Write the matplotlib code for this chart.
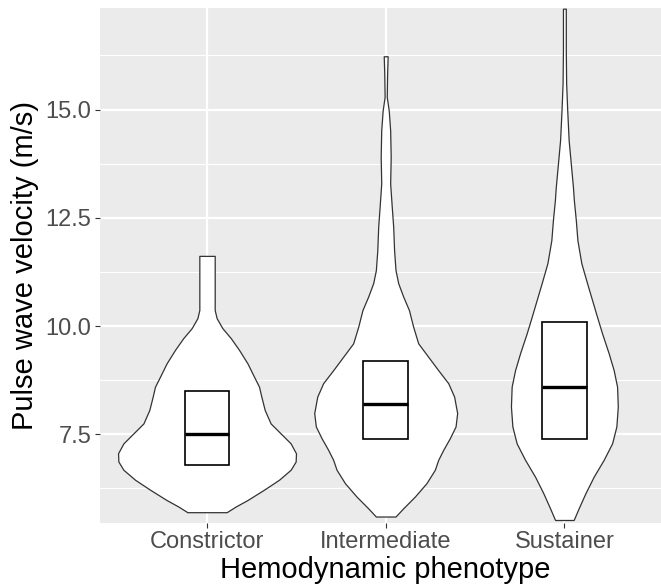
import matplotlib
matplotlib.use("Agg")
import matplotlib.pyplot as plt
from matplotlib.patches import Rectangle
import numpy as np

plt.rcParams["font.family"] = ["Liberation Sans", "DejaVu Sans"]

# phenotype groups
phenotypes = ["Constrictor", "Intermediate", "Sustainer"]

# violin outlines: PWV level (m/s) and density half-width (in category units)
constrictor_y = [5.70, 5.83, 5.98, 6.22, 6.45, 6.68, 6.87, 7.06, 7.29, 7.52,
                 7.75, 8.06, 8.37, 8.60, 8.83, 9.14, 9.45, 9.72, 9.95, 10.18,
                 10.37, 10.99, 11.62]
constrictor_w = [0.110, 0.160, 0.226, 0.319, 0.403, 0.468, 0.496, 0.498, 0.468, 0.412,
                 0.356, 0.323, 0.304, 0.291, 0.263, 0.226, 0.179, 0.133, 0.086, 0.054,
                 0.043, 0.043, 0.043]

intermediate_y = [5.60, 5.79, 6.06, 6.37, 6.68, 6.91, 7.14, 7.41, 7.68, 7.99,
                  8.37, 8.68, 8.98, 9.29, 9.60, 9.98, 10.37, 10.68, 10.99, 11.29,
                  11.75, 12.29, 12.75, 13.29, 13.91, 14.52, 14.98, 15.29, 15.83, 16.23]
intermediate_w = [0.055, 0.098, 0.163, 0.228, 0.275, 0.294, 0.322, 0.359, 0.391, 0.400,
                  0.383, 0.350, 0.294, 0.238, 0.182, 0.154, 0.130, 0.098, 0.070, 0.055,
                  0.047, 0.042, 0.034, 0.025, 0.028, 0.025, 0.017, 0.006, 0.008, 0.011]

sustainer_y = [5.52, 5.79, 6.14, 6.52, 6.91, 7.29, 7.68, 8.14, 8.60, 8.98,
               9.37, 9.83, 10.21, 10.60, 10.99, 11.45, 11.98, 12.45, 12.91, 13.21,
               13.75, 14.29, 14.98, 15.60, 16.37, 17.33]
sustainer_w = [0.052, 0.080, 0.118, 0.164, 0.220, 0.267, 0.291, 0.299, 0.295, 0.276,
               0.248, 0.211, 0.183, 0.155, 0.127, 0.095, 0.073, 0.064, 0.053, 0.048,
               0.036, 0.024, 0.016, 0.010, 0.008, 0.008]

# box summaries (25th, median, 75th percentile)
q1 = [6.8, 7.4, 7.4]
medians = [7.5, 8.2, 8.6]
q3 = [8.5, 9.2, 10.1]

violins = [(constrictor_y, constrictor_w),
           (intermediate_y, intermediate_w),
           (sustainer_y, sustainer_w)]

fig = plt.figure(figsize=(6.61, 5.87), dpi=100)
ax = fig.add_axes([0.151, 0.109, 0.865, 0.877])
ax.set_facecolor("#EBEBEB")
for side in ax.spines.values():
    side.set_visible(False)

# grid
for yv in [6.25, 8.75, 11.25, 13.75, 16.25]:
    ax.axhline(yv, color="white", lw=0.8, zorder=0)
for yv in [7.5, 10.0, 12.5, 15.0]:
    ax.axhline(yv, color="white", lw=1.6, zorder=0)
for i in range(len(phenotypes)):
    ax.axvline(i + 1, color="white", lw=1.6, zorder=0)

for i, (vy, vw) in enumerate(violins):
    pos = i + 1
    vy = np.array(vy)
    vw = np.array(vw)
    ax.fill_betweenx(vy, pos - vw, pos + vw, facecolor="white",
                     edgecolor="#333333", lw=0.9, zorder=2)
    ax.add_patch(Rectangle((pos - 0.125, q1[i]), 0.25, q3[i] - q1[i],
                           facecolor="white", edgecolor="black", lw=1.2, zorder=3))
    ax.hlines(medians[i], pos - 0.125, pos + 0.125, color="black", lw=2.4, zorder=4)

ax.set_xlim(0.4, 3.6)
ax.set_ylim(5.45, 17.34)
ax.set_xticks(range(1, len(phenotypes) + 1))
ax.set_xticklabels(phenotypes)
ax.set_yticks([7.5, 10.0, 12.5, 15.0])
ax.set_yticklabels(["7.5", "10.0", "12.5", "15.0"])
ax.tick_params(axis="both", colors="#333333", length=3.6, width=0.8,
               labelsize=17, labelcolor="#4D4D4D", pad=2.5)

ax.set_xlabel("Hemodynamic phenotype", fontsize=21, color="black", labelpad=2)
ax.set_ylabel("Pulse wave velocity (m/s)", fontsize=21, color="black", labelpad=5)
ax.xaxis.label.set_x((385.6 - 0.151 * 661) / (0.865 * 661))

fig.savefig("out.png", dpi=100)
